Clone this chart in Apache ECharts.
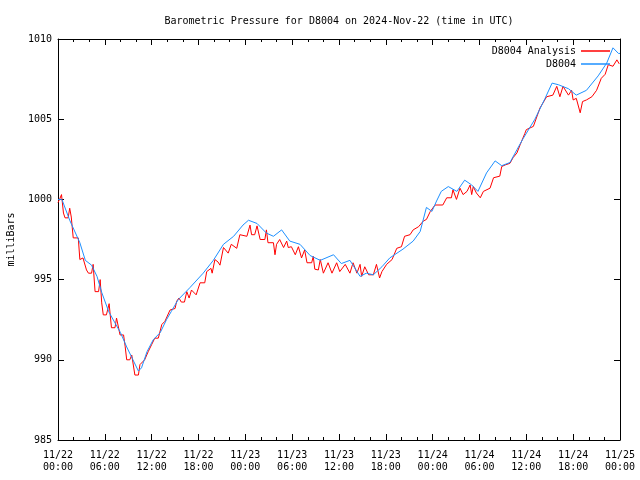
<!DOCTYPE html>
<html>
<head>
<meta charset="utf-8">
<script src="https://cdn.jsdelivr.net/npm/echarts@6/dist/echarts.min.js"></script>
<style>html,body{margin:0;padding:0;background:#fff}#c{width:640px;height:480px}</style>
</head>
<body>
<div id="c"></div>
<script>
// Hours since 2024-11-22 00:00 UTC
const tickLabels = ["11/22\n00:00","11/22\n06:00","11/22\n12:00","11/22\n18:00","11/23\n00:00","11/23\n06:00","11/23\n12:00","11/23\n18:00","11/24\n00:00","11/24\n06:00","11/24\n12:00","11/24\n18:00","11/25\n00:00"];
const yTicks = [985, 990, 995, 1000, 1005, 1010];

const stationHours = [0,0.5,1.5,2.8,3.5,4.3,5.0,5.6,6.5,7.3,8.0,8.8,9.6,10.3,10.7,11.4,12.2,13.1,13.9,14.5,15.4,16.9,18.6,19.9,21.2,22.5,23.7,24.4,25.5,26.7,27.6,28.65,29.7,31.0,32.3,33.6,35.3,36.3,37.4,38.7,39.5,40.4,41.5,42.5,44.2,45.5,46.4,47.2,47.9,48.5,49.1,50.0,51.1,52.1,53.0,53.8,54.9,56.0,56.85,57.9,58.8,59.6,61.1,62.4,63.3,64.1,65.4,66.4,67.7,69.2,70.3,71.1,71.8,72.0];
const stationValues = [1000.0,1000.0,998.7,997.3,996.2,995.9,995.2,994.2,993.0,992.3,991.7,990.8,990.0,989.3,989.5,990.5,991.25,991.7,992.5,993.0,993.75,994.5,995.4,996.2,997.2,997.7,998.4,998.7,998.5,997.9,997.7,998.1,997.4,997.2,996.5,996.2,996.55,996.0,996.2,995.2,995.4,995.3,995.8,996.35,996.9,997.4,998.0,999.5,999.25,999.9,1000.5,1000.8,1000.5,1001.2,1000.9,1000.5,1001.65,1002.4,1002.1,1002.3,1003.1,1003.8,1005.0,1006.3,1007.25,1007.15,1006.9,1006.5,1006.8,1007.7,1008.5,1009.45,1009.1,1009.1];

const analysisHours = [0.0,0.2,0.45,0.7,0.9,1.3,1.5,1.7,1.95,2.6,2.8,3.2,3.65,3.9,4.3,4.5,4.75,5.2,5.4,5.6,5.8,6.2,6.55,6.85,7.3,7.5,7.95,8.4,8.6,8.8,9.2,9.45,9.85,10.3,10.5,11.1,11.55,12.0,12.4,12.85,13.3,13.7,14.35,15.0,15.2,15.5,15.8,16.2,16.5,16.8,17.1,17.7,18.2,18.8,19.05,19.6,19.75,20.1,20.5,20.75,21.2,21.8,22.2,22.9,23.3,24.2,24.6,24.8,25.2,25.5,25.9,26.5,26.7,26.9,27.6,27.8,28.0,28.4,28.9,29.3,29.5,29.9,30.4,30.8,31.2,31.6,31.9,32.5,32.7,32.9,33.35,33.6,34.0,34.6,35.1,35.7,36.1,36.8,37.4,37.8,38.3,38.7,38.9,39.3,39.8,40.4,40.8,41.2,41.5,42.1,42.8,43.4,44.0,44.4,45.1,45.5,46.2,46.8,47.2,47.7,48.3,49.3,49.8,50.4,50.6,51.05,51.5,51.9,52.4,52.8,53.0,53.2,53.6,54.1,54.5,55.35,55.8,56.6,56.85,57.3,57.9,58.3,58.8,59.2,59.8,60.0,60.9,61.75,62.6,63.4,63.9,64.3,64.7,65.4,65.8,66.0,66.4,66.9,67.2,67.7,68.4,69.0,69.6,70.1,70.5,71.1,71.6,71.9];
const analysisValues = [999.8,1000.0,1000.3,999.15,998.85,998.85,999.45,998.9,997.6,997.6,996.25,996.35,995.6,995.4,995.4,995.95,994.25,994.25,995.0,993.55,992.8,992.8,993.5,992.0,992.0,992.6,991.55,991.55,990.85,990.0,990.0,990.3,989.05,989.05,989.7,990.0,990.5,990.95,991.35,991.35,992.2,992.4,993.1,993.2,993.65,993.85,993.6,993.6,994.25,993.85,994.35,994.05,994.8,994.8,995.5,995.7,995.4,996.25,996.1,995.9,997.0,996.65,997.2,996.95,997.8,997.7,998.4,997.8,997.8,998.35,997.5,997.5,998.1,997.3,997.3,996.55,997.2,997.5,997.0,997.4,997.0,997.05,996.55,997.05,996.35,996.85,996.05,996.05,996.45,995.65,995.6,996.25,995.4,996.05,995.4,996.05,995.5,995.95,995.4,996.05,995.4,995.95,995.2,995.8,995.3,995.3,995.95,995.1,995.5,995.95,996.25,996.95,997.05,997.7,997.8,998.1,998.3,998.65,998.75,999.25,999.65,999.65,1000.1,1000.1,1000.6,1000.0,1000.7,1000.3,1000.5,1000.9,1000.3,1000.8,1000.4,1000.1,1000.5,1000.7,1001.35,1001.45,1002.05,1002.15,1002.25,1002.6,1002.9,1003.4,1004.1,1004.35,1004.55,1005.7,1006.4,1006.5,1007.05,1006.4,1007.05,1006.5,1006.8,1006.2,1006.3,1005.4,1006.1,1006.2,1006.4,1006.8,1007.55,1007.8,1008.4,1008.3,1008.7,1008.45];

const FONT = 'DejaVu Sans Mono';
const FS = 10;
const pairs = (hs, vs) => hs.map((h, i) => [h, vs[i]]);

const chart = echarts.init(document.getElementById('c'), null, {renderer: 'canvas'});

const axisLine = {show: true, onZero: false, lineStyle: {color: '#000', width: 1}};
const xTick = {show: true, inside: true, length: 6, lineStyle: {color: '#000'}};
const xMinor = {show: true, splitNumber: 3, length: 3, lineStyle: {color: '#000'}};

chart.setOption({
  animation: false,
  backgroundColor: '#fff',
  title: {
    text: 'Barometric Pressure for D8004 on 2024-Nov-22 (time in UTC)',
    left: 334, top: 11, textAlign: 'center',
    textStyle: {fontFamily: FONT, fontSize: FS, fontWeight: 'normal', color: '#000'}
  },
  legend: {
    orient: 'vertical', right: 25, top: 41, align: 'right',
    icon: 'rect', itemWidth: 29, itemHeight: 1.5, itemGap: 3,
    textStyle: {fontFamily: FONT, fontSize: FS, color: '#000', padding: [0, 0, 0, 0]},
    data: ['D8004 Analysis', 'D8004']
  },
  grid: {left: 58, right: 20, top: 39, bottom: 40, containLabel: false, outerBoundsMode: 'none'},
  xAxis: [
    {type: 'value', position: 'bottom', min: 0, max: 72, interval: 6,
      axisLine, axisTick: xTick, minorTick: xMinor, splitLine: {show: false},
      axisLabel: {fontFamily: FONT, fontSize: FS, color: '#000', margin: 9, lineHeight: 12,
        formatter: v => tickLabels[Math.round(v / 6)] || ''}},
    {type: 'value', position: 'top', min: 0, max: 72, interval: 6,
      axisLine, axisTick: xTick, minorTick: xMinor, splitLine: {show: false},
      axisLabel: {show: false}}
  ],
  yAxis: [
    {type: 'value', position: 'left', min: yTicks[0], max: yTicks[yTicks.length - 1], interval: 5,
      axisLine, axisTick: {show: true, inside: true, length: 6, lineStyle: {color: '#000'}},
      splitLine: {show: false},
      axisLabel: {fontFamily: FONT, fontSize: FS, color: '#000', margin: 6, formatter: v => String(v)},
      name: 'milliBars', nameLocation: 'middle', nameRotate: 90, nameGap: 42,
      nameTextStyle: {fontFamily: FONT, fontSize: FS, color: '#000'}},
    {type: 'value', position: 'right', min: yTicks[0], max: yTicks[yTicks.length - 1], interval: 5,
      axisLine, axisTick: {show: true, inside: true, length: 6, lineStyle: {color: '#000'}},
      splitLine: {show: false}, axisLabel: {show: false}}
  ],
  series: [
    {name: 'D8004 Analysis', type: 'line', data: pairs(analysisHours, analysisValues),
      showSymbol: false, symbol: 'none', color: '#ff0000',
      lineStyle: {color: '#ff0000', width: 1}},
    {name: 'D8004', type: 'line', data: pairs(stationHours, stationValues),
      showSymbol: false, symbol: 'none', color: '#1e90ff',
      lineStyle: {color: '#1e90ff', width: 1}}
  ]
});
</script>
</body>
</html>
